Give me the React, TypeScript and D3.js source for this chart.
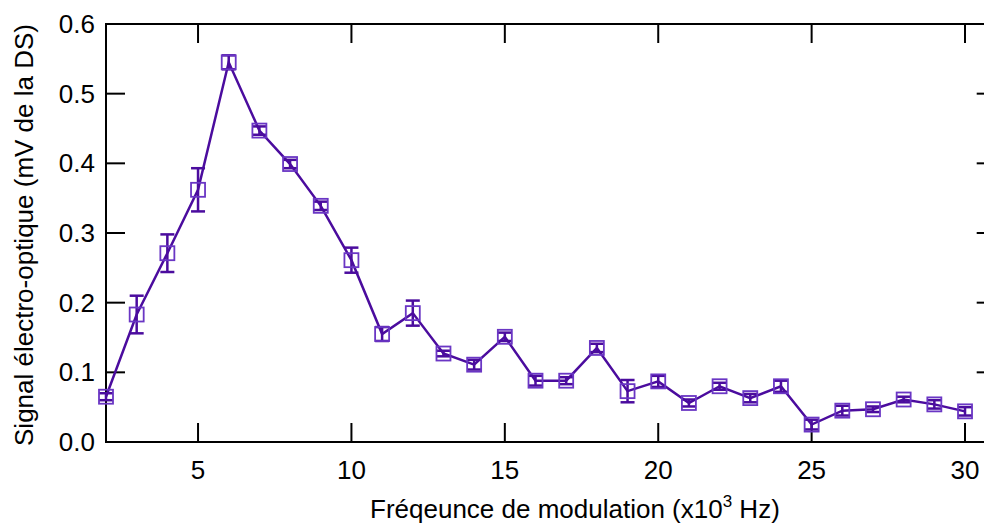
import React from "react";
import * as d3 from "d3";

const freq = [2,3,4,5,6,7,8,9,10,11,12,13,14,15,16,17,18,19,20,21,22,23,24,25,26,27,28,29,30];
const signal = [0.065,0.183,0.271,0.362,0.545,0.447,0.399,0.339,0.261,0.155,0.185,0.127,0.111,0.151,0.088,0.088,0.135,0.073,0.087,0.056,0.080,0.063,0.080,0.025,0.045,0.047,0.061,0.054,0.044];
const errs = [0.005,0.027,0.027,0.031,0.01,0.006,0.006,0.006,0.018,0.01,0.018,0.004,0.007,0.006,0.007,0.005,0.006,0.016,0.008,0.005,0.005,0.006,0.008,0.007,0.007,0.004,0.004,0.006,0.006];
const xTicks = [5,10,15,20,25,30];
const yTicks = [0,0.1,0.2,0.3,0.4,0.5,0.6];

const W = 984, H = 524;
const L = 106, R = 995.7, T = 24, B = 442;
const LINE = "#4b0c9e";
const MARK = "#6a36c4";
const FONT = "Liberation Sans, Arial, sans-serif";
const FS = 26;

export default function App() {
  const x = d3.scaleLinear().domain([2, 31]).range([L, R]);
  const y = d3.scaleLinear().domain([0, 0.6]).range([B, T]);
  const pts = freq.map((f, i) => ({ f, v: signal[i], e: errs[i] }));
  const line = d3.line<any>().x(d => x(d.f)).y(d => y(d.v));
  const tl = 19;
  return (
    <svg width={W} height={H} style={{ position: "absolute", left: 0, top: 0 }}>
      <rect x={0} y={0} width={W} height={H} fill="white" />
      {xTicks.map(t => (
        <g key={"x" + t}>
          <line x1={x(t)} x2={x(t)} y1={B} y2={B - tl} stroke="black" strokeWidth={2} />
          <line x1={x(t)} x2={x(t)} y1={T} y2={T + tl} stroke="black" strokeWidth={2} />
          <text x={x(t)} y={479} textAnchor="middle" fontFamily={FONT} fontSize={FS}>{t}</text>
        </g>
      ))}
      {yTicks.map(t => (
        <g key={"y" + t}>
          <line x1={L} x2={L + tl} y1={y(t)} y2={y(t)} stroke="black" strokeWidth={2} />
          <line x1={R} x2={R - tl} y1={y(t)} y2={y(t)} stroke="black" strokeWidth={2} />
          <text x={95} y={y(t) + 9} textAnchor="end" fontFamily={FONT} fontSize={FS}>{t.toFixed(1)}</text>
        </g>
      ))}
      <rect x={L} y={T} width={R - L} height={B - T} fill="none" stroke="black" strokeWidth={2} />
      <path d={line(pts) || ""} fill="none" stroke={LINE} strokeWidth={2.5} />
      {pts.map((p, i) => (
        <g key={"p" + i}>
          <line x1={x(p.f)} x2={x(p.f)} y1={y(p.v - p.e)} y2={y(p.v + p.e)} stroke={LINE} strokeWidth={2.5} />
          <line x1={x(p.f) - 7} x2={x(p.f) + 7} y1={y(p.v - p.e)} y2={y(p.v - p.e)} stroke={LINE} strokeWidth={2.5} />
          <line x1={x(p.f) - 7} x2={x(p.f) + 7} y1={y(p.v + p.e)} y2={y(p.v + p.e)} stroke={LINE} strokeWidth={2.5} />
          <rect x={x(p.f) - 7} y={y(p.v) - 7} width={14} height={14} fill="none" stroke={MARK} strokeWidth={1.8} />
        </g>
      ))}
      <text x={370} y={518} fontFamily={FONT} fontSize={FS}>
        Fréqeunce de modulation (x10<tspan dy={-11} fontSize={17}>3</tspan><tspan dy={11}> Hz)</tspan>
      </text>
      <text transform={`translate(33,${(T + B) / 2 + 2}) rotate(-90)`} textAnchor="middle" fontFamily={FONT} fontSize={FS}>
        Signal électro-optique (mV de la DS)
      </text>
    </svg>
  );
}
